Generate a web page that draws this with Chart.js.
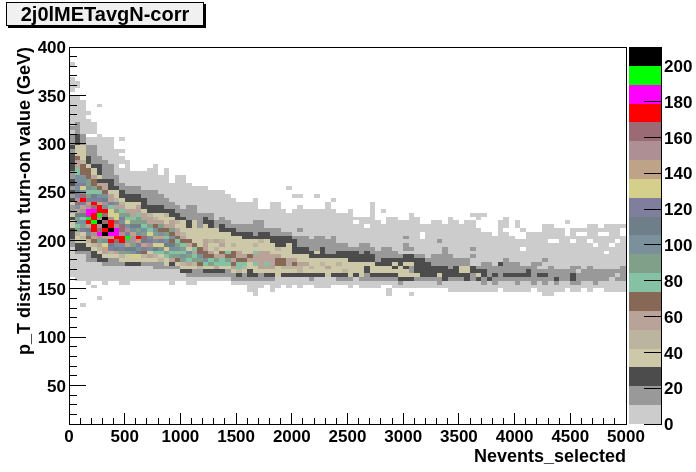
<!DOCTYPE html>
<html>
<head>
<meta charset="utf-8">
<script src="https://cdn.jsdelivr.net/npm/chart.js@4"></script>
<style>
    html, body { margin: 0; background: #fff; }
    canvas { position: absolute; top: 0; }
    #hist { left: 0; }
    #zbar { left: 626px; }
    #title {
        position: absolute; left: 6px; top: 2px; width: 196px; height: 22px;
        border: 1px solid #000; box-shadow: 2px 2px 0 #000; background: #f0f0f0;
        font: bold 20px "Liberation Sans", sans-serif; line-height: 22px; text-align: center;
    }
</style>
</head>
<body>
<canvas id="hist" width="696" height="472"></canvas>
<canvas id="zbar" width="70" height="472"></canvas>
<div id="title">2j0lMETavgN-corr</div>
<script>
const xBinWidth = 50;
const yBinWidth = 3.9;
const xRange = [0, 5000];
const yRange = [10, 400];
const xMajor = [0, 500, 1000, 1500, 2000, 2500, 3000, 3500, 4000, 4500, 5000];
const xMinor = [100, 200, 300, 400, 600, 700, 800, 900, 1100, 1200, 1300, 1400, 1600, 1700, 1800, 1900, 2100, 2200, 2300, 2400, 2600, 2700, 2800, 2900, 3100, 3200, 3300, 3400, 3600, 3700, 3800, 3900, 4100, 4200, 4300, 4400, 4600, 4700, 4800, 4900];
const yMajor = [50, 100, 150, 200, 250, 300, 350, 400];
const yMinor = [20, 30, 40, 60, 70, 80, 90, 110, 120, 130, 140, 160, 170, 180, 190, 210, 220, 230, 240, 260, 270, 280, 290, 310, 320, 330, 340, 360, 370, 380, 390];
const zEdges = [0, 10.5, 21.1, 31.6, 42.1, 52.6, 63.2, 73.7, 84.2, 94.7, 105.3, 115.8, 126.3, 136.8, 147.4, 157.9, 168.4, 178.9, 189.5, 200, 210.5];
const zTicks = [0, 20, 40, 60, 80, 100, 120, 140, 160, 180, 200];
const zColors = ["#cccccc", "#999999", "#4c4c4c", "#cdc8a8", "#bbb5a0", "#b9a399", "#876755", "#84c2a3", "#81a08a", "#7a919c", "#6f7f8a", "#7f7f9d", "#d4cf8a", "#bfa389", "#ad8f94", "#9a6b74", "#ff0000", "#ff00ff", "#00ff00", "#000000"];
const levelChars = "0123456789abcdefghij";

// lowest filled y bin of each x bin
const firstRow = [39, 38, 31, 37, 36, 33, 37, 38, 38, 37, 37, 37, 38, 38, 38, 38, 38, 38, 37, 38, 38, 37, 37, 38, 38, 38, 38, 38, 38, 37, 37, 37, 35, 34, 36, 37, 35, 36, 37, 36, 37, 36, 37, 37, 36, 36, 36, 37, 37, 37, 36, 37, 36, 36, 36, 36, 37, 34, 36, 36, 36, 34, 36, 36, 36, 36, 36, 36, 35, 35, 35, 35, 35, 35, 35, 35, 35, 36, 35, 35, 35, 35, 35, 36, 35, 34, 34, 35, 35, 36, 35, 35, 36, 35, 36, 36, 35, 35, 35, 35];
// colour bin of each cell going up the x bin, "." is an empty cell
const columnLevels = [
    "00000000 11 222 3323113212 1 22 11 22222 1 2 111 0 1 0 0000000 . 0000 ... 0",
    "0000000 1 22 3 348798a59feba 9b9977556333 222 111 0000000 .. 00",
    "0 ...... 000000 0 1 2 2 3 4 3b897ae5b g f9 c b99 666 4 3333 111 000000000",
    "000000 111 2 3 4 6 9 a 5 g i h h e d b 8 7 9 8 8 666 3 22 111 00 . 0000 . 0",
    "0 . 00000 1 22 3 4 6 d e g g i g g h f g b a 7 8 6 6 5 3 3 2 11111 00 . 000",
    "0 .... 00000 22 3 4 5 8 e h f e j e i g g d b 9 7 6 5 2 3 222 11 0 0000 0 ....... 0",
    "00000 1 2 3 5 d c 9 d j g j f j f g 9 e a 9 6 5 5 2 11111 000000",
    "0000 11 3 4 b a g d h j g g e c c 7 b 5 5 3 222 1111 0000000",
    "0000 11 3 5 a 9 f g h h e f c c 8 5 9 4 3 3 2 111 0 0000 00",
    "0 0000 1 3 4 8 b 9 g g e f f 9 b 8 7 5 4 3 22 11 0000 . 00 . 0 .. 0",
    "00000 2 33 8 a d 8 i b e 9 c 7 8 5 33 22 11 0000000",
    ". 0000 2 3 c 9 a 8 e e d 9 a 8 7 5 5 3 3 22 11 0000",
    "0000 2 3 c a 9 b d g 9 8 a 8 8 7 5 5 3 22 11 0 000",
    "0000 1 3 4 6 b d a f 8 9 7 8 5 5 3 222 11 00000",
    "0000 1 3 5 3 9 e b 9 c 7 8 5 5 4 22 1111 000000",
    "000 11 3 4 7 a c 9 d 8 9 6 5 4 3 22 1111 0000000",
    "000 11 4 3 7 9 c b d 9 6 8 5 3 3 22 111 00000",
    "000 1 33 7 8 c a 9 7 8 6 5 33 4 2 111 00000000",
    "0 000 1 2 5 8 7 9 a 6 9 6 8 55 3 22 11 00000",
    "000 1 3 6 8 7 9 8 7 6 5 5 3 4 22 11 00000000",
    "00 2 3 4 8 9 7 8 7 6 5 4 333 2 11 000000000",
    "00 1 2 3 5 7 8 9 3 5 6 333 22 1111 000000",
    "00 11 3 4 8 7 5 7 6 333333 1111 00000",
    "0 11 4 6 8 9 66 33333 1111 0000000",
    "0 1 2 3 7 9 66 555 3333 22 1 0000000",
    "0 1 2 3 8 7 6 5 33 4 333 22 11 000000",
    "0 1 2 5 7 8 5 3 4 3 5 333 11 00000000",
    "0 1 2 3 77 5 6 3 5 4 33 22 11 0000000",
    "0 11 3 7 8 6 7 33333 2 11 0000000",
    "0 11 3 5 6 5 66 3 4 33 22 1 0000000",
    "0 1 2 4 77 6 55 3333 2 11 000000",
    "0 11 3 4 7 6 5 3333 22 11 000000",
    "000 1 22 33 5 6 3333 22 11 000000",
    "0000 1 2 33 7 55 7 3 4 3 2 1111 000000",
    "00 11 3 55555 33 4 22 111 000",
    "0 1 2 3 5 7 555 333 22 1 00000",
    "000 1 2 3 5 555 333 22 11 00000 00",
    "00 0 333 66 5 3 4 222 11 00000 00",
    "00 2 3 4 66 333 222 1 000000",
    "000 2 3 4 55 3333 22 1 00000 ...... 0",
    "00 2 3 4 6 5 3 2222 1 0000000 ... 0",
    "000 2 44 5 33 22 111 0 1 000000 .. 0",
    "00 2 33 5 33 22 111 0000000",
    "0 1 2 3 4 33 22 111 00000000",
    "000 2 3333 2 3 1111 0000000 ... 0",
    "000 2 33 4 3 222 111 0000000",
    "000 33 5 33 2 1111 000000000 0",
    "00 2 3333 2 11111 0000000 .. 0",
    "0 1 2 33 4 3 22 11 00000000",
    "0 1 2 4 333 22 11 00000000",
    "00 1 3333 222 1 0000000000",
    "00 2 333 222 1 000000 . 0",
    "00 1 3333 22 111 0000000",
    "00 11 22 3 222 11 0000 . 00",
    "00 1 2 333 22 11 000000000 000",
    "00 1 2 33 2 111 0 0000000",
    "0 1 2 33 22 111 000000 ... 0",
    "00 . 0 1 2 33 22 111 00000000",
    "00 1 2 3 2 3 2 11 000000000",
    "0 1 2 333 22 1 000000000",
    "00 2 33 2 3 2 2 0 11 0 1 0000",
    "0 . 00 2 3 11 3 22 0 1 000000000",
    "00 1 3 2222 1 0000000000",
    "00 1 22222 1 0000 .. 00",
    "00 1 2222 1 000000000",
    "00 1 222 111 000000000",
    "0 1 1 3 22 111 000 1 00000",
    "00 2222 11111 000000",
    "000 1 22 1111 000000000 0",
    "000 1 222 11 0000000000",
    "000 1 2 33 11 000000000",
    "000 22 33 11 0000000000",
    "000 11 22 00 1 0 1 0000000 . 0",
    "000 2 3 2 1 0000000000 .. 00",
    "00 11 22 11 00000000 .... 0",
    "000 2 1111 00000000",
    "00 11 2 11 00000000",
    "00 1111 2 000000000 00",
    "000 1 2 1111 0000000 . 000",
    "000 1 2 111 0000000",
    "00 11 2 111 000000 ... 00",
    "000 1 2 11 0000 . 00 .. 0",
    "000 1 22 1 000000000",
    "0 111111 00000000",
    "000 1 2 1 0 1 00000000",
    "000 11 2 1 00 1 000000000",
    "0000 1111 000000 . 0000",
    "00 1 2 11 0000000 . 000",
    "000 111 00000000000",
    "00 111 000000000 ... 0",
    "00 1 22 11 000000 . 000",
    "00 111 0 1 00000000 . 0",
    "00 111 00000000 0 . 0",
    "000 1111 000000 . 0000",
    "0 1111 000000 . 00000",
    "00 111 000000000 . 0",
    "000 111 0000 . 0000 . 00",
    "0000 11 000000 . 00000",
    "000 1 0 1 0000000 . 0000",
    "000 1111 00000000 .. 0"
];

const blackFont = { family: "'Liberation Sans', sans-serif", size: 17, weight: "bold" };
const axisTitleFont = { family: "'Liberation Sans', sans-serif", size: 18, weight: "bold" };

// one dataset per colour bin, each cell is a floating bar
const cellsByLevel = zColors.map(() => []);
columnLevels.forEach((col, i) => {
    col.replace(/ /g, "").split("").forEach((ch, k) => {
        if (ch === ".") return;
        const row = firstRow[i] + k;
        cellsByLevel[levelChars.indexOf(ch)].push({
            x: xRange[0] + (i + 0.5) * xBinWidth,
            y: [yRange[0] + row * yBinWidth, yRange[0] + (row + 1) * yBinWidth]
        });
    });
});

// round twice so float noise around .5 can't open a seam between cells
function snap(v) {
    return Math.round(Math.round(v * 1000) / 1000);
}

// snap bars to whole pixels so neighbouring cells have no seams
const snapBars = {
    id: "snapBars",
    afterDatasetsUpdate(chart) {
        chart.getSortedVisibleDatasetMetas().forEach(meta => {
            meta.data.forEach(bar => {
                const left = snap(bar.x - bar.width / 2);
                const right = snap(bar.x + bar.width / 2);
                bar.x = (left + right) / 2;
                bar.width = right - left;
                bar.y = snap(bar.y);
                bar.base = snap(bar.base);
                bar.height = bar.base - bar.y;
            });
        });
    }
};

const frame = {
    id: "frame",
    afterDraw(chart) {
        const a = chart.chartArea;
        chart.ctx.save();
        chart.ctx.strokeStyle = "#000";
        chart.ctx.lineWidth = 1;
        chart.ctx.strokeRect(a.left + 0.5, a.top + 0.5, a.right - a.left, a.bottom - a.top);
        chart.ctx.restore();
    }
};

function useTicks(values) {
    return scale => { scale.ticks = values.map(v => ({ value: v })); };
}

function fitTo(size) {
    return scale => {
        if (scale.isHorizontal()) scale.height = size; else scale.width = size;
        scale.paddingLeft = scale.paddingRight = scale.paddingTop = scale.paddingBottom = 0;
    };
}

function minorAxis(pos, range, values, len) {
    return {
        type: "linear", position: pos, min: range[0], max: range[1], weight: -1, offset: false,
        afterBuildTicks: useTicks(values),
        afterFit: fitTo(0),
        border: { display: false },
        grid: { drawOnChartArea: false, color: "#000", tickLength: len, z: 1, offset: false },
        ticks: { display: false }
    };
}

new Chart(document.getElementById("hist"), {
    type: "bar",
    data: {
        datasets: zColors.map((c, i) => ({
            label: String(zEdges[i]),
            data: cellsByLevel[i],
            backgroundColor: c,
            borderWidth: 0,
            inflateAmount: 0,
            grouped: false,
            barPercentage: 1,
            categoryPercentage: 1
        }))
    },
    options: {
        responsive: false,
        animation: false,
        layout: { padding: { top: 47, right: 70, left: 0, bottom: 0 } },
        plugins: { legend: { display: false }, tooltip: { enabled: false } },
        scales: {
            x: {
                type: "linear", position: "bottom", min: xRange[0], max: xRange[1], offset: false,
                afterBuildTicks: useTicks(xMajor),
                afterFit: fitTo(48),
                border: { display: false },
                grid: { drawOnChartArea: false, color: "#000", tickLength: -11, z: 1, offset: false },
                ticks: { color: "#000", font: blackFont, padding: 14, maxRotation: 0, autoSkip: false, callback: v => String(v) },
                title: { display: true, text: "Nevents_selected", color: "#000", font: axisTitleFont, align: "end", padding: { top: 10 } }
            },
            x2: minorAxis("bottom", xRange, xMinor, -6),
            y: {
                type: "linear", position: "left", min: yRange[0], max: yRange[1],
                afterBuildTicks: useTicks(yMajor),
                afterFit: fitTo(69),
                border: { display: false },
                grid: { drawOnChartArea: false, color: "#000", tickLength: -17, z: 1 },
                ticks: { color: "#000", font: blackFont, padding: 20, labelOffset: 1.5, autoSkip: false, callback: v => String(v) },
                title: { display: true, text: "p_T distribution turn-on value (GeV)", color: "#000", font: axisTitleFont, align: "end", padding: { top: 14 } }
            },
            y2: minorAxis("left", yRange, yMinor, -8)
        }
    },
    plugins: [snapBars, frame]
});

new Chart(document.getElementById("zbar"), {
    type: "bar",
    data: {
        labels: ["z"],
        datasets: zColors.map((c, i) => ({
            label: String(zEdges[i]),
            data: [{ x: "z", y: [zEdges[i], zEdges[i + 1]] }],
            backgroundColor: c,
            borderWidth: 0,
            inflateAmount: 0,
            grouped: false,
            barPercentage: 1,
            categoryPercentage: 1
        }))
    },
    options: {
        responsive: false,
        animation: false,
        layout: { padding: { top: 47, left: 3, right: 0, bottom: 48 } },
        plugins: { legend: { display: false }, tooltip: { enabled: false } },
        scales: {
            x: { display: false },
            y: {
                position: "right", min: zEdges[0], max: zEdges[20],
                afterBuildTicks: useTicks(zTicks),
                afterFit: fitTo(35),
                border: { color: "#000", z: 1 },
                grid: { drawOnChartArea: false, color: "#000", tickLength: -17, z: 1 },
                ticks: { color: "#000", font: blackFont, padding: 20, labelOffset: 1.5, autoSkip: false, callback: v => String(v) }
            }
        }
    },
    plugins: [snapBars]
});
</script>
</body>
</html>
